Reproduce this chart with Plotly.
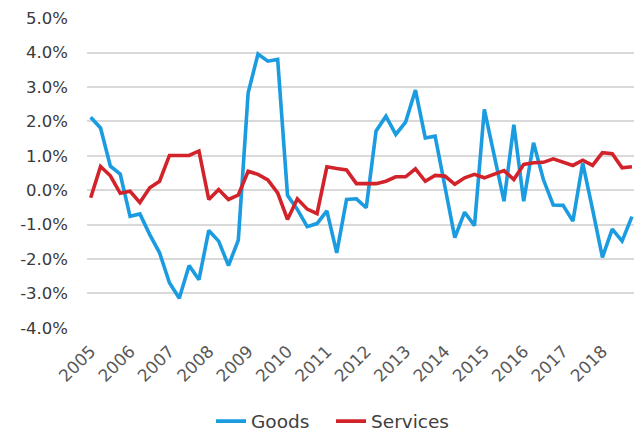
import plotly.graph_objects as go

# Quarterly price change, 2005 Q1 - 2018 Q4 (percent)
years = list(range(2005, 2019))
quarters = [f"{y} Q{q}" for y in years for q in range(1, 5)]

goods = [
    2.12, 1.81, 0.70, 0.47, -0.76, -0.69, -1.29, -1.82,
    -2.69, -3.14, -2.19, -2.60, -1.17, -1.48, -2.19, -1.45,
    2.83, 3.96, 3.75, 3.80, -0.15, -0.56, -1.06, -0.97,
    -0.60, -1.82, -0.27, -0.25, -0.51, 1.72, 2.15, 1.62,
    1.98, 2.91, 1.52, 1.57, 0.10, -1.38, -0.64, -1.03,
    2.35, 1.05, -0.32, 1.90, -0.32, 1.38, 0.31, -0.43,
    -0.44, -0.90, 0.79, -0.56, -1.95, -1.13, -1.48, -0.77,
]

services = [
    -0.22, 0.69, 0.42, -0.09, -0.03, -0.36, 0.07, 0.26,
    1.01, 1.01, 1.01, 1.14, -0.27, 0.02, -0.27, -0.14,
    0.55, 0.46, 0.30, -0.08, -0.85, -0.25, -0.55, -0.68,
    0.68, 0.63, 0.59, 0.19, 0.19, 0.19, 0.26, 0.39,
    0.39, 0.62, 0.26, 0.43, 0.41, 0.17, 0.36, 0.46,
    0.36, 0.46, 0.57, 0.31, 0.75, 0.80, 0.81, 0.91,
    0.81, 0.72, 0.87, 0.72, 1.09, 1.06, 0.65, 0.68,
]

y_ticks = [-4, -3, -2, -1, 0, 1, 2, 3, 4, 5]
y_tick_labels = [f"{v:.1f}%" for v in y_ticks]
year_ticks = [f"{y} Q1" for y in years]
year_labels = [str(y) for y in years]

FONT = "DejaVu Sans"

fig = go.Figure()
fig.add_trace(go.Scatter(
    x=quarters, y=goods, name="Goods", mode="lines",
    line=dict(color="#1B9BE0", width=3.6),
))
fig.add_trace(go.Scatter(
    x=quarters, y=services, name="Services", mode="lines",
    line=dict(color="#D2232A", width=3.6),
))

fig.update_layout(
    width=634, height=432,
    margin=dict(l=87, r=0, t=18, b=104),
    paper_bgcolor="white", plot_bgcolor="white",
    font=dict(family=FONT, size=18, color="#404040"),
    showlegend=True,
    legend=dict(
        orientation="h", xref="container", yref="container",
        x=211 / 634, xanchor="left", y=0.024, yanchor="middle",
        font=dict(family=FONT, size=18.5, color="#404040"),
        itemwidth=30, entrywidth=75, entrywidthmode="pixels",
    ),
    xaxis=dict(
        type="category",
        range=[-0.376, 55.21],
        tickmode="array", tickvals=year_ticks, ticktext=year_labels,
        tickangle=-45, showgrid=False, zeroline=False, showline=False,
        tickfont=dict(family=FONT, size=17, color="#595959"),
        ticks="", ticklabelstandoff=9,
    ),
    yaxis=dict(
        range=[-4.005, 5.005],
        tickmode="array", tickvals=y_ticks, ticktext=y_tick_labels,
        showgrid=True, gridcolor="#D9D9D9", gridwidth=1.5,
        zeroline=False, showline=False,
        tickfont=dict(family=FONT, size=16.5, color="#3A3A3A"),
        ticks="", ticklabelstandoff=18,
    ),
)

fig.write_html("out.html")
